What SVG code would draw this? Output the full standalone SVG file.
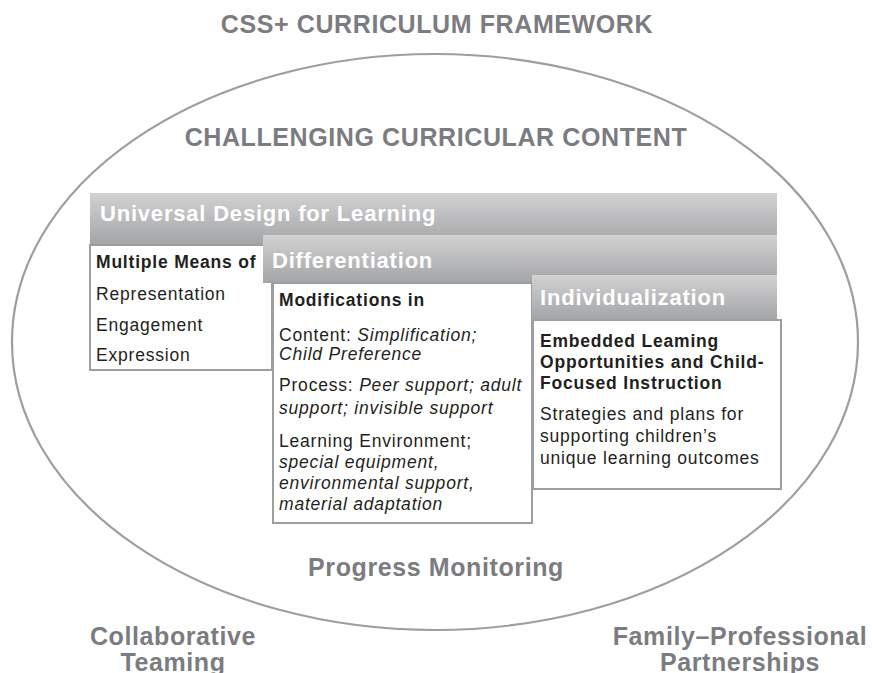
<svg xmlns="http://www.w3.org/2000/svg" width="872" height="673" viewBox="0 0 872 673">
<defs>
<linearGradient id="barGrad" x1="0" y1="0" x2="0" y2="1">
<stop offset="0" stop-color="#d2d2d3"/>
<stop offset="1" stop-color="#a3a4a6"/>
</linearGradient>
<style>
.title{font-family:"Liberation Sans",Arial,sans-serif;font-weight:bold;font-size:25px;fill:#7b7c7f;text-anchor:middle;letter-spacing:0.6px}
.bar{fill:url(#barGrad)}
.barText{font-family:"Liberation Sans",Arial,sans-serif;font-weight:bold;font-size:22px;fill:#ffffff;letter-spacing:0.8px}
.box{fill:#ffffff;stroke:#9d9ea0;stroke-width:2}
.t{font-family:"Liberation Sans",Arial,sans-serif;font-size:17.5px;fill:#231f20;letter-spacing:0.8px}
.b{font-weight:bold}
.i{font-style:italic}
.ring{fill:none;stroke:#9d9ea0;stroke-width:2.2}
</style>
</defs>
<rect width="872" height="673" fill="#ffffff"/>
<text class="title" x="437" y="33">CSS+ CURRICULUM FRAMEWORK</text>
<ellipse class="ring" cx="435" cy="342" rx="423" ry="288"/>
<text class="title" x="436" y="146">CHALLENGING CURRICULAR CONTENT</text>

<g id="udl">
<rect class="bar" x="90" y="193" width="687" height="52"/>
<text class="barText" x="100" y="221">Universal Design for Learning</text>
<rect class="box" x="90" y="245" width="182" height="125"/>
<text class="t b" x="96" y="268">Multiple Means of</text>
<text class="t" x="96" y="300">Representation</text>
<text class="t" x="96" y="331">Engagement</text>
<text class="t" x="96" y="361">Expression</text>
</g>

<g id="differentiation">
<rect class="bar" x="263" y="235" width="514" height="48"/>
<text class="barText" x="272" y="268">Differentiation</text>
<rect class="box" x="273" y="283" width="259" height="240"/>
<text class="t b" x="279" y="306">Modifications in</text>
<text class="t" x="279" y="341">Content: <tspan class="i">Simplification;</tspan></text>
<text class="t i" x="279" y="360">Child Preference</text>
<text class="t" x="279" y="391">Process: <tspan class="i">Peer support; adult</tspan></text>
<text class="t i" x="279" y="414">support; invisible support</text>
<text class="t" x="279" y="447">Learning Environment;</text>
<text class="t i" x="279" y="468">special equipment,</text>
<text class="t i" x="279" y="489">environmental support,</text>
<text class="t i" x="279" y="510">material adaptation</text>
</g>

<g id="individualization">
<rect class="bar" x="532" y="275" width="245" height="45"/>
<text class="barText" x="540" y="305">Individualization</text>
<rect class="box" x="533" y="320" width="248" height="169"/>
<text class="t b" x="540" y="347">Embedded Leaming</text>
<text class="t b" x="540" y="368">Opportunities and Child-</text>
<text class="t b" x="540" y="389">Focused Instruction</text>
<text class="t" x="540" y="420">Strategies and plans for</text>
<text class="t" x="540" y="442">supporting children’s</text>
<text class="t" x="540" y="464">unique learning outcomes</text>
</g>

<g id="connectors"></g>

<text class="title" x="436" y="576">Progress Monitoring</text>
<text class="title" x="173" y="645">Collaborative</text>
<text class="title" x="173" y="671">Teaming</text>
<text class="title" x="740" y="645">Family–Professional</text>
<text class="title" x="740" y="671">Partnerships</text>
</svg>
